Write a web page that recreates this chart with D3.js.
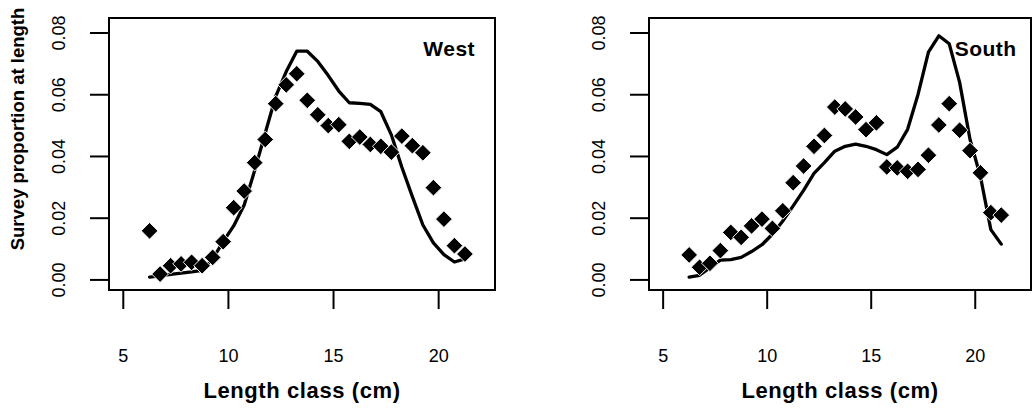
<!DOCTYPE html>
<html>
<head>
<meta charset="utf-8">
<script src="https://cdn.jsdelivr.net/npm/d3@7"></script>
<style>
  body { margin: 0; background: #fff; }
  svg { display: block; }
  text { font-family: "Liberation Sans", Arial, Helvetica, sans-serif; fill: #000; }
</style>
</head>
<body>
<svg id="chart" width="1033" height="417"></svg>
<script>
// Length classes (cm, mid-points)
const lengthClass = [6.25, 6.75, 7.25, 7.75, 8.25, 8.75, 9.25, 9.75, 10.25, 10.75,
  11.25, 11.75, 12.25, 12.75, 13.25, 13.75, 14.25, 14.75, 15.25, 15.75,
  16.25, 16.75, 17.25, 17.75, 18.25, 18.75, 19.25, 19.75, 20.25, 20.75, 21.25];

// West: observed survey proportions and model fit
const westObserved = [0.0159, 0.0019, 0.0046, 0.0052, 0.0057, 0.0046, 0.0073, 0.0124, 0.0234, 0.0288,
  0.0380, 0.0455, 0.0571, 0.0632, 0.0668, 0.0582, 0.0535, 0.0500, 0.0503, 0.0449,
  0.0463, 0.0439, 0.0433, 0.0414, 0.0466, 0.0435, 0.0412, 0.0299, 0.0197, 0.0111, 0.0084];
const westFitted = [0.0009, 0.0013, 0.0018, 0.0022, 0.0026, 0.0031, 0.0068, 0.0124, 0.0175, 0.0243,
  0.0355, 0.0475, 0.0595, 0.0675, 0.0741, 0.0741, 0.0708, 0.0662, 0.0612, 0.0574,
  0.0572, 0.0569, 0.0545, 0.0470, 0.0365, 0.0270, 0.0178, 0.0120, 0.0082, 0.0058, 0.0068];

// South: observed survey proportions and model fit
const southObserved = [0.0081, 0.0041, 0.0054, 0.0095, 0.0154, 0.0138, 0.0175, 0.0197, 0.0167, 0.0224,
  0.0315, 0.0369, 0.0433, 0.0468, 0.0560, 0.0554, 0.0528, 0.0487, 0.0509, 0.0366,
  0.0363, 0.0352, 0.0358, 0.0404, 0.0502, 0.0571, 0.0485, 0.0419, 0.0347, 0.0218, 0.0210];
const southFitted = [0.0009, 0.0015, 0.0040, 0.0064, 0.0066, 0.0073, 0.0092, 0.0114, 0.0148, 0.0191,
  0.0240, 0.0290, 0.0345, 0.0380, 0.0417, 0.0433, 0.0440, 0.0433, 0.0422, 0.0406,
  0.0430, 0.0488, 0.0601, 0.0738, 0.0791, 0.0765, 0.0640, 0.0455, 0.0335, 0.0163, 0.0116];

const regionNames = ["West", "South"];
const xTicks = [5, 10, 15, 20];
const yTicks = [0.00, 0.02, 0.04, 0.06, 0.08];
const xLimits = [5, 22];
const yLimits = [0, 0.0816];
const labelPos = [20.5, 0.075];
const xTitle = "Length class (cm)";
const yTitle = "Survey proportion at length";

const svg = d3.select("#chart");
svg.append("rect").attr("width", 1033).attr("height", 417).attr("fill", "#fff");

const panels = [
  { name: regionNames[0], obs: westObserved, fit: westFitted, left: 109, right: 495, yTitle: true },
  { name: regionNames[1], obs: southObserved, fit: southFitted, left: 649, right: 1031, yTitle: false }
];
const plotTop = 18, plotBottom = 290;

// pad the axis limits by 4% like a base-graphics plot
function padded(lim) {
  const d = (lim[1] - lim[0]) * 0.04;
  return [lim[0] - d, lim[1] + d];
}

panels.forEach(p => {
  const x = d3.scaleLinear().domain(padded(xLimits)).range([p.left, p.right]);
  const y = d3.scaleLinear().domain(padded(yLimits)).range([plotBottom, plotTop]);
  const g = svg.append("g");

  // fitted curve
  const line = d3.line().x((d, i) => x(lengthClass[i])).y(d => y(d));
  g.append("path")
    .datum(p.fit)
    .attr("d", line)
    .attr("fill", "none")
    .attr("stroke", "#000")
    .attr("stroke-width", 3.3)
    .attr("stroke-linejoin", "round")
    .attr("stroke-linecap", "round");

  // observed points as filled diamonds
  const diamond = d3.symbol().type(d3.symbolSquare).size(140);
  g.selectAll("path.pt")
    .data(p.obs)
    .join("path")
    .attr("class", "pt")
    .attr("d", diamond)
    .attr("transform", (d, i) => `translate(${x(lengthClass[i])},${y(d)}) rotate(45)`)
    .attr("fill", "#000")
    .attr("stroke", "#fff")
    .attr("stroke-width", 0.9);

  // plot frame
  g.append("rect")
    .attr("x", p.left).attr("y", plotTop)
    .attr("width", p.right - p.left).attr("height", plotBottom - plotTop)
    .attr("fill", "none").attr("stroke", "#000").attr("stroke-width", 2);

  // x axis ticks and labels
  xTicks.forEach(t => {
    g.append("line")
      .attr("x1", x(t)).attr("x2", x(t))
      .attr("y1", plotBottom).attr("y2", plotBottom + 19)
      .attr("stroke", "#000").attr("stroke-width", 2);
    g.append("text")
      .attr("x", x(t)).attr("y", 362)
      .attr("text-anchor", "middle")
      .attr("font-size", 18)
      .text(t);
  });

  // y axis ticks and rotated labels
  yTicks.forEach(t => {
    g.append("line")
      .attr("x1", p.left - 19).attr("x2", p.left)
      .attr("y1", y(t)).attr("y2", y(t))
      .attr("stroke", "#000").attr("stroke-width", 2);
    g.append("text")
      .attr("transform", `translate(${p.left - 44},${y(t)}) rotate(-90)`)
      .attr("text-anchor", "middle")
      .attr("font-size", 18)
      .text(d3.format(".2f")(t));
  });

  // x axis title
  g.append("text")
    .attr("x", (p.left + p.right) / 2).attr("y", 398)
    .attr("text-anchor", "middle")
    .attr("font-size", 22)
    .attr("font-weight", "bold")
    .attr("letter-spacing", 0.6)
    .text(xTitle);

  // region label
  g.append("text")
    .attr("x", x(labelPos[0])).attr("y", y(labelPos[1]))
    .attr("text-anchor", "middle")
    .attr("dominant-baseline", "central")
    .attr("font-size", 21)
    .attr("font-weight", "bold")
    .attr("letter-spacing", 0.5)
    .text(p.name);

  if (p.yTitle) {
    svg.append("text")
      .attr("transform", `translate(24,129) rotate(-90)`)
      .attr("text-anchor", "middle")
      .attr("font-size", 18.5)
      .attr("font-weight", "bold")
      .text(yTitle);
  }
});
</script>
</body>
</html>
